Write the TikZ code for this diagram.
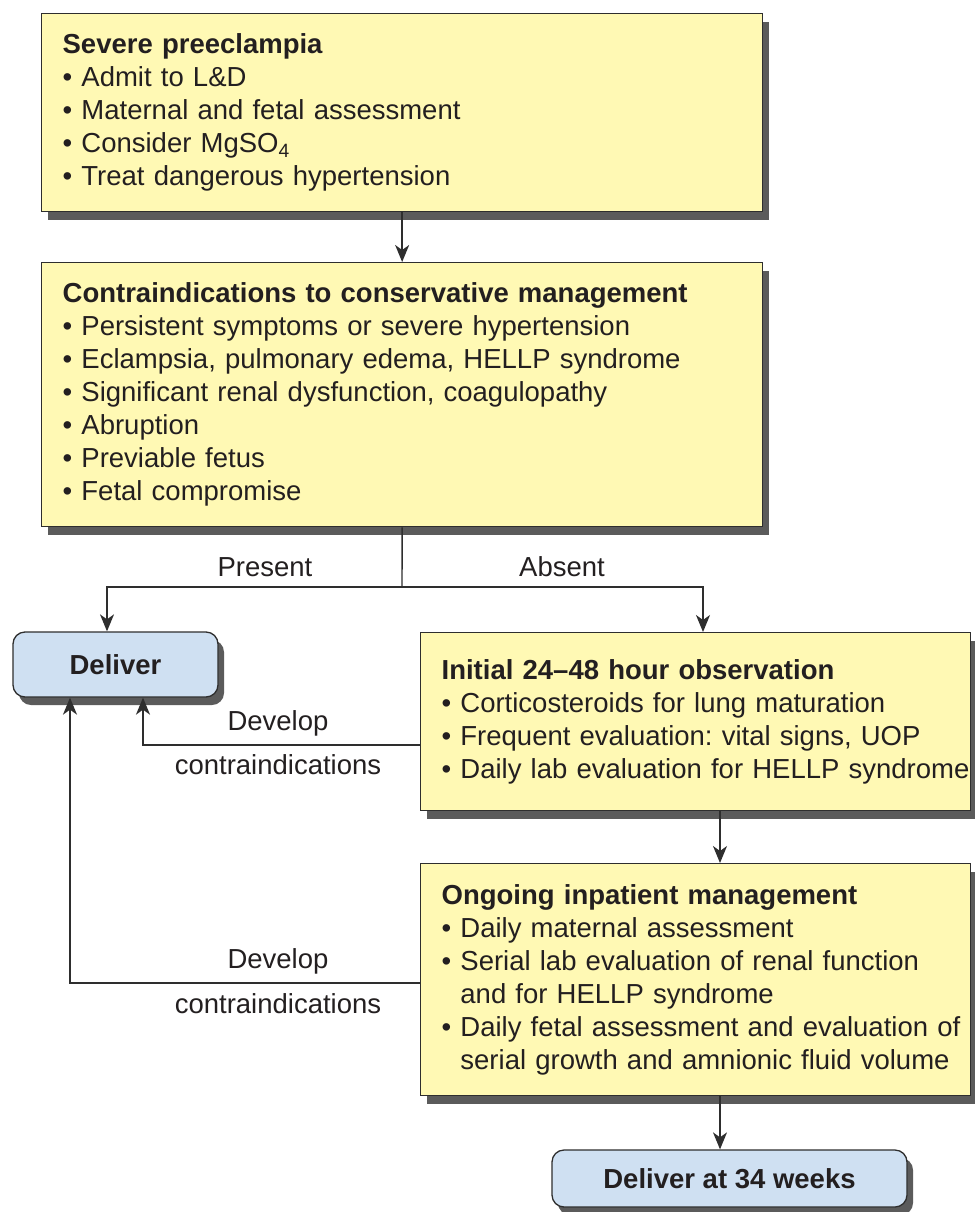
\documentclass[tikz,border=0pt]{standalone}
\usepackage{fontspec}
\setmainfont{Liberation Sans}
\usetikzlibrary{arrows.meta, shadows}
\definecolor{jaune}{HTML}{FFF9B4}
\definecolor{bleu}{HTML}{CFE0F2}
\definecolor{ombre}{HTML}{5B5B5B}
\definecolor{trait}{HTML}{2E2E2E}
\definecolor{texte}{HTML}{231F20}
\frenchspacing

\begin{document}
\begin{tikzpicture}[x=1pt, y=-1pt]
  \tikzstyle{boite}=[draw=trait, fill=jaune, line width=1.3pt, anchor=north west, align=left,
    inner xsep=21pt, inner ysep=0pt, text=texte, font=\fontsize{27.5}{33}\selectfont,
    drop shadow={shadow xshift=6pt, shadow yshift=-8pt, fill=ombre, opacity=1}];
  \tikzstyle{arrondi}=[boite, fill=bleu, rounded corners=12pt, anchor=center, align=center,
    font=\bfseries\fontsize{27.5}{33}\selectfont];
  \tikzstyle{fleche}=[draw=trait, line width=1.4pt, -{Stealth[length=17pt, width=14pt, inset=5pt]}];
  \tikzstyle{etiquette}=[text=texte, font=\fontsize{27.5}{33}\selectfont];

  \useasboundingbox (0,0) rectangle (974,1212);

  \node[boite, text width=679pt, minimum height=198pt] (PE) at (41,13) {%
    \textbf{Severe preeclampia}\\
    \textbullet\ Admit to L\&D\\
    \textbullet\ Maternal and fetal assessment\\
    \textbullet\ Consider MgSO\textsubscript{4}\\
    \textbullet\ Treat dangerous hypertension};
  \node[boite, text width=679pt, minimum height=264pt] (CI) at (41,262) {%
    \textbf{Contraindications to conservative management}\\
    \textbullet\ Persistent symptoms or severe hypertension\\
    \textbullet\ Eclampsia, pulmonary edema, HELLP syndrome\\
    \textbullet\ Significant renal dysfunction, coagulopathy\\
    \textbullet\ Abruption\\
    \textbullet\ Previable fetus\\
    \textbullet\ Fetal compromise};
  \node[arrondi, minimum width=205pt, minimum height=65pt] (AC) at (115.5,664.5) {Deliver};
  \node[boite, text width=508pt, minimum height=178pt] (OB) at (420,632) {%
    \textbf{Initial 24--48 hour observation}\\
    \textbullet\ Corticosteroids for lung maturation\\
    \textbullet\ Frequent evaluation: vital signs, UOP\\
    \mbox{\textbullet\ Daily lab evaluation for HELLP syndrome}};
  \node[boite, text width=508pt, minimum height=232pt] (SU) at (420,863) {%
    \textbf{Ongoing inpatient management}\\
    \textbullet\ Daily maternal assessment\\
    \textbullet\ Serial lab evaluation of renal function\\
    \hphantom{\textbullet\ }and for HELLP syndrome\\
    \mbox{\textbullet\ Daily fetal assessment and evaluation of}\\
    \hphantom{\textbullet\ }serial growth and amnionic fluid volume};
  \node[arrondi, minimum width=355pt, minimum height=57pt] (AC34) at (729.5,1178.5) {Deliver at 34 weeks};

  \coordinate (F) at (402,587);
  \coordinate (P) at (107,587);
  \coordinate (A) at (703,587);
  \coordinate (C) at (720,0);
  \coordinate (R1) at (143,745);
  \coordinate (R2) at (70,983);

  \draw[fleche] (PE.south) -- (CI.north);
  \draw[draw=trait, line width=1.4pt] (CI.south) -- (F);
  \draw[fleche] (F) -- (P) -- (AC.north -| P);
  \draw[fleche] (F) -- (A) -- (OB.north -| A);
  \draw[fleche] (OB.south -| C) -- (SU.north -| C);
  \draw[fleche] (SU.south -| C) -- (AC34.north -| C);
  \draw[fleche] (OB.west |- R1) -- (R1) -- (AC.south -| R1);
  \draw[fleche] (SU.west |- R2) -- (R2) -- (AC.south -| R2);

  \node[etiquette] (present) at (265,567) {Present};
  \node[etiquette] (absent) at (562,567) {Absent};
  \node[etiquette] (dev1) at (278,723) {Develop};
  \node[etiquette] (contra1) at (278,765) {contraindications};
  \node[etiquette] (dev2) at (278,961) {Develop};
  \node[etiquette] (contra2) at (278,1004) {contraindications};
\end{tikzpicture}
\end{document}
